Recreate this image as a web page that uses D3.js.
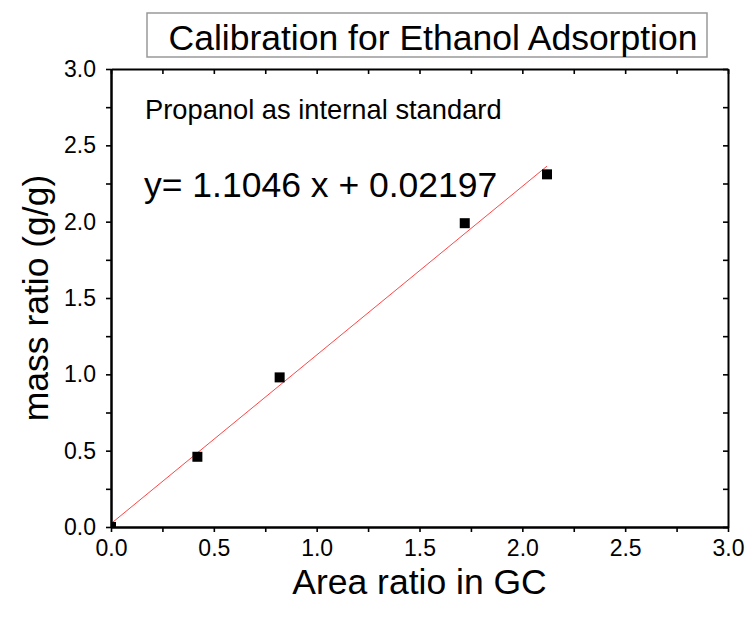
<!DOCTYPE html>
<html>
<head>
<meta charset="utf-8">
<script src="https://cdn.jsdelivr.net/npm/d3@7"></script>
<style>
  html, body { margin: 0; padding: 0; background: #fff; }
  svg { display: block; font-family: "Liberation Sans", Arial, sans-serif; }
</style>
</head>
<body>
<svg id="chart" width="748" height="619"></svg>
<script>
// Calibration points: GC area ratio vs. mass ratio
const areaRatio = [0.0, 0.42, 0.82, 1.72, 2.12];
const massRatio = [0.0, 0.46, 0.98, 1.99, 2.31];

// Linear fit y = slope * x + intercept
const slope = 1.1046;
const intercept = 0.02197;

const xTickValues = [0, 0.5, 1.0, 1.5, 2.0, 2.5, 3.0];
const yTickValues = [0, 0.5, 1.0, 1.5, 2.0, 2.5, 3.0];
const minorTickValues = [0.25, 0.75, 1.25, 1.75, 2.25, 2.75];

const titleText = "Calibration for Ethanol Adsorption";
const noteText = "Propanol as internal standard";
const equationText = "y= 1.1046 x + 0.02197";
const xTitle = "Area ratio in GC";
const yTitle = "mass ratio (g/g)";

const svg = d3.select("#chart");
const plot = { left: 111, right: 728, top: 69, bottom: 527 };

const x = d3.scaleLinear().domain([0, 3]).range([plot.left, plot.right]);
const y = d3.scaleLinear().domain([0, 3]).range([plot.bottom, plot.top]);

// Title box
svg.append("rect")
  .attr("x", 147).attr("y", 13).attr("width", 560).attr("height", 44)
  .attr("fill", "#fff").attr("stroke", "#999").attr("stroke-width", 1.5);
svg.append("text")
  .attr("x", 433).attr("y", 50).attr("text-anchor", "middle")
  .attr("font-size", 35.5).attr("fill", "#000").text(titleText);

// Clip region for the data marks
svg.append("clipPath").attr("id", "plot-clip")
  .append("rect")
  .attr("x", plot.left).attr("y", plot.top)
  .attr("width", plot.right - plot.left).attr("height", plot.bottom - plot.top);

const fmt = d3.format(".1f");
const tickSize = 5;

// Bottom axis: majors labelled, minors unlabelled, ticks outward
svg.append("g").attr("transform", `translate(0,${plot.bottom})`)
  .call(d3.axisBottom(x).tickValues(xTickValues).tickFormat(fmt)
    .tickSizeInner(tickSize).tickSizeOuter(0).tickPadding(8));
svg.append("g").attr("transform", `translate(0,${plot.bottom})`)
  .call(d3.axisBottom(x).tickValues(minorTickValues).tickFormat("").tickSizeInner(tickSize).tickSizeOuter(0));

// Left axis
svg.append("g").attr("transform", `translate(${plot.left},0)`)
  .call(d3.axisLeft(y).tickValues(yTickValues).tickFormat(fmt)
    .tickSizeInner(tickSize).tickSizeOuter(0).tickPadding(10));
svg.append("g").attr("transform", `translate(${plot.left},0)`)
  .call(d3.axisLeft(y).tickValues(minorTickValues).tickFormat("").tickSizeInner(tickSize).tickSizeOuter(0));

// Top and right axes: mirrored ticks pointing inward, no labels
svg.append("g").attr("transform", `translate(0,${plot.top})`)
  .call(d3.axisTop(x).tickValues(xTickValues.concat(minorTickValues)).tickFormat("").tickSizeInner(-tickSize).tickSizeOuter(0));
svg.append("g").attr("transform", `translate(${plot.right},0)`)
  .call(d3.axisRight(y).tickValues(yTickValues.concat(minorTickValues)).tickFormat("").tickSizeInner(-tickSize).tickSizeOuter(0));

svg.selectAll(".domain").attr("stroke", "#000").attr("stroke-width", 2);
svg.selectAll(".tick line").attr("stroke", "#000").attr("stroke-width", 1.6);
svg.selectAll(".tick text").attr("font-size", 23).attr("fill", "#000")
  .attr("font-family", "'Liberation Sans', Arial, sans-serif");

// Fit line over the data range
const xMax = d3.max(areaRatio);
svg.append("line")
  .attr("x1", x(0)).attr("y1", y(intercept))
  .attr("x2", x(xMax)).attr("y2", y(slope * xMax + intercept))
  .attr("stroke", "#ff3030").attr("stroke-width", 0.9)
  .attr("clip-path", "url(#plot-clip)");

// Square markers
const ms = 10;
svg.append("g").attr("clip-path", "url(#plot-clip)")
  .selectAll("rect").data(d3.zip(areaRatio, massRatio)).join("rect")
  .attr("x", d => x(d[0]) - ms / 2).attr("y", d => y(d[1]) - ms / 2)
  .attr("width", ms).attr("height", ms).attr("fill", "#000");

// Annotations
svg.append("text").attr("x", 145).attr("y", 119)
  .attr("font-size", 27.3).attr("fill", "#000").text(noteText);
svg.append("text").attr("x", 144).attr("y", 197)
  .attr("font-size", 35.5).attr("fill", "#000").text(equationText);

// Axis titles
svg.append("text").attr("x", (plot.left + plot.right) / 2).attr("y", 594)
  .attr("text-anchor", "middle").attr("font-size", 35.5).attr("fill", "#000").text(xTitle);
svg.append("text")
  .attr("transform", `translate(48,${(plot.top + plot.bottom) / 2}) rotate(-90)`)
  .attr("text-anchor", "middle").attr("font-size", 35.5).attr("fill", "#000").text(yTitle);
</script>
</body>
</html>
